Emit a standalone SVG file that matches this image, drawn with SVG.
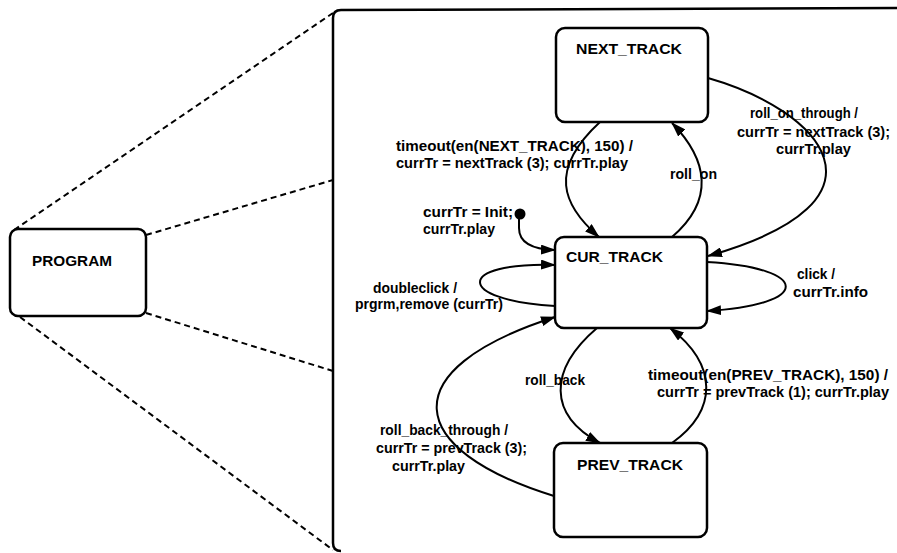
<svg xmlns="http://www.w3.org/2000/svg" width="897" height="553" viewBox="0 0 897 553">
  <style>
    .box { fill: #fff; stroke: #000; stroke-width: 2.5; }
    .title { font-family: "Liberation Sans", Arial, sans-serif; font-weight: bold; font-size: 15.5px; fill: #000; }
    .lbl { font-family: "Liberation Sans", Arial, sans-serif; font-weight: bold; font-size: 14px; fill: #000; }
    .edge { fill: none; stroke: #000; stroke-width: 2; marker-end: url(#arrow); }
    .zoom { fill: none; stroke: #000; stroke-width: 2; stroke-dasharray: 6 4; }
  </style>
  <defs>
    <marker id="arrow" markerUnits="userSpaceOnUse" markerWidth="15" markerHeight="10" refX="14" refY="5" orient="auto">
      <path d="M0,0 L15,5 L0,10 z" fill="#000"/>
    </marker>
  </defs>
  <rect width="897" height="553" fill="#fff"/>

  <!-- zoom lines from PROGRAM to its expanded contents -->
  <g id="zoom-lines">
    <line class="zoom" x1="14" y1="230" x2="333" y2="13"/>
    <line class="zoom" x1="146" y1="235" x2="333" y2="180"/>
    <line class="zoom" x1="146" y1="313" x2="333" y2="371"/>
    <line class="zoom" x1="20" y1="317" x2="333" y2="550"/>
  </g>

  <!-- expanded PROGRAM frame (open to the right and bottom) -->
  <g id="program-frame">
    <path d="M341,551 Q333,551 333,543 L333,18 Q333,10 341,10 L897,8" fill="none" stroke="#000" stroke-width="2.5"/>
  </g>

  <g id="PROGRAM">
    <rect class="box" x="10" y="229" width="136" height="87" rx="8"/>
    <text class="title" x="32" y="266" textLength="80" lengthAdjust="spacingAndGlyphs">PROGRAM</text>
  </g>

  <g id="NEXT_TRACK">
    <rect class="box" x="556" y="28" width="152" height="94" rx="9"/>
    <text class="title" x="576" y="54" textLength="106" lengthAdjust="spacingAndGlyphs">NEXT_TRACK</text>
  </g>

  <g id="CUR_TRACK">
    <rect class="box" x="555" y="237" width="152" height="91" rx="9"/>
    <text class="title" x="566" y="262" textLength="97" lengthAdjust="spacingAndGlyphs">CUR_TRACK</text>
  </g>

  <g id="PREV_TRACK">
    <rect class="box" x="554" y="443" width="153" height="94" rx="9"/>
    <text class="title" x="577" y="470" textLength="106" lengthAdjust="spacingAndGlyphs">PREV_TRACK</text>
  </g>

  <g id="initial">
    <circle cx="520" cy="214" r="5.5" fill="#000"/>
  </g>

  <g id="connectors">
    <!-- initial transition -->
    <path class="edge" d="M519,214 L519,228 Q519,249 555,250"/>
    <!-- NEXT_TRACK -> CUR_TRACK on timeout -->
    <path class="edge" d="M600,122 C548,170 562,205 599,237"/>
    <!-- CUR_TRACK -> NEXT_TRACK on roll_on -->
    <path class="edge" d="M672,237 C715,200 708,160 672,123"/>
    <!-- NEXT_TRACK -> CUR_TRACK on roll_on_through -->
    <path class="edge" d="M708,78 C820,110 905,200 708,256"/>
    <!-- self loop: doubleclick -->
    <path class="edge" d="M555,306 C455,300 455,262 555,265"/>
    <!-- self loop: click -->
    <path class="edge" d="M707,262 C812,268 812,305 707,311"/>
    <!-- CUR_TRACK -> PREV_TRACK on roll_back -->
    <path class="edge" d="M597,328 C548,370 548,415 600,443"/>
    <!-- PREV_TRACK -> CUR_TRACK on timeout -->
    <path class="edge" d="M672,443 C718,410 718,365 670,328"/>
    <!-- PREV_TRACK -> CUR_TRACK on roll_back_through -->
    <path class="edge" d="M554,496 C405,450 390,370 555,317"/>
  </g>

  <g id="labels">
    <text class="lbl" x="396" y="151" textLength="237" lengthAdjust="spacingAndGlyphs">timeout(en(NEXT_TRACK), 150) /</text>
    <text class="lbl" x="396" y="168" textLength="232" lengthAdjust="spacingAndGlyphs">currTr = nextTrack (3); currTr.play</text>

    <text class="lbl" x="750" y="118" textLength="108" lengthAdjust="spacingAndGlyphs">roll_on_through /</text>
    <text class="lbl" x="737" y="137" textLength="153" lengthAdjust="spacingAndGlyphs">currTr = nextTrack (3);</text>
    <text class="lbl" x="776" y="154" textLength="75" lengthAdjust="spacingAndGlyphs">currTr.play</text>

    <text class="lbl" x="670" y="179" textLength="47" lengthAdjust="spacingAndGlyphs">roll_on</text>

    <text class="lbl" x="423" y="217" textLength="90" lengthAdjust="spacingAndGlyphs">currTr = Init;</text>
    <text class="lbl" x="423" y="234" textLength="72" lengthAdjust="spacingAndGlyphs">currTr.play</text>

    <text class="lbl" x="373" y="293" textLength="84" lengthAdjust="spacingAndGlyphs">doubleclick /</text>
    <text class="lbl" x="355" y="309" textLength="148" lengthAdjust="spacingAndGlyphs">prgrm,remove (currTr)</text>

    <text class="lbl" x="797" y="279" textLength="38" lengthAdjust="spacingAndGlyphs">click /</text>
    <text class="lbl" x="793" y="297" textLength="75" lengthAdjust="spacingAndGlyphs">currTr.info</text>

    <text class="lbl" x="525" y="385" textLength="60" lengthAdjust="spacingAndGlyphs">roll_back</text>

    <text class="lbl" x="648" y="380" textLength="240" lengthAdjust="spacingAndGlyphs">timeout(en(PREV_TRACK), 150) /</text>
    <text class="lbl" x="657" y="397" textLength="232" lengthAdjust="spacingAndGlyphs">currTr = prevTrack (1); currTr.play</text>

    <text class="lbl" x="380" y="435" textLength="128" lengthAdjust="spacingAndGlyphs">roll_back_through /</text>
    <text class="lbl" x="376" y="453" textLength="151" lengthAdjust="spacingAndGlyphs">currTr = prevTrack (3);</text>
    <text class="lbl" x="392" y="471" textLength="73" lengthAdjust="spacingAndGlyphs">currTr.play</text>
  </g>
</svg>
